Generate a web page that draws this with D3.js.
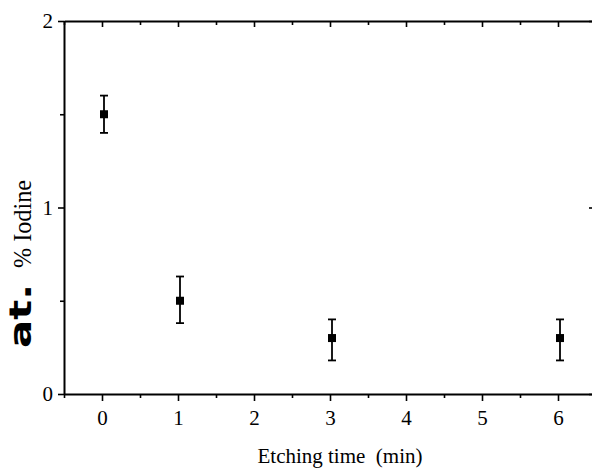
<!DOCTYPE html>
<html>
<head>
<meta charset="utf-8">
<script src="https://cdn.jsdelivr.net/npm/d3@7"></script>
<style>
html,body{margin:0;padding:0;background:#fff;overflow:hidden}
svg{display:block}
</style>
</head>
<body>
<svg id="c" width="592" height="471"></svg>
<script>
const etchTimes = [0, 1, 3, 6];
const iodine = [1.5, 0.5, 0.3, 0.3];
const errLow = [1.4, 0.38, 0.18, 0.18];
const errHigh = [1.6, 0.63, 0.4, 0.4];
const xTickValues = [0, 1, 2, 3, 4, 5, 6];
const yTickValues = [0, 1, 2];
const xLabel = "Etching time  (min)";
const yLabelBold = "at.";
const yLabelRest = "% Iodine";

const svg = d3.select("#c");
const L = 64, R = 596, T = 21, B = 394;
const x = d3.scaleLinear().domain([-0.5, 6.5]).range([L, R]);
const y = d3.scaleLinear().domain([0, 2]).range([B, T]);
const serif = "Liberation Serif, Times New Roman, serif";

function style(g){
  g.attr("font-family", serif).attr("font-size", 21);
  g.select(".domain").attr("stroke","#000").attr("stroke-width",2);
  g.selectAll(".tick line").attr("stroke","#000").attr("stroke-width",1.6);
  g.selectAll(".tick text").attr("fill","#000");
}
const xMinor = d3.range(-0.5, 6.51, 0.5).filter(v => !xTickValues.includes(v));
const yMinor = [0.5, 1.5];
const minorStyle = g=>{g.select(".domain").remove(); g.selectAll("line").attr("stroke","#000").attr("stroke-width",1.6);};

// bottom
const gb = svg.append("g").attr("transform",`translate(0,${B})`)
  .call(d3.axisBottom(x).tickValues(xTickValues).tickFormat(d3.format("d")).tickSizeInner(7).tickSizeOuter(0).tickPadding(9));
style(gb);
svg.append("g").attr("transform",`translate(0,${B})`)
  .call(d3.axisBottom(x).tickValues(xMinor).tickFormat("").tickSizeInner(4).tickSizeOuter(0)).call(minorStyle);
// top
const gt = svg.append("g").attr("transform",`translate(0,${T})`)
  .call(d3.axisTop(x).tickValues(xTickValues).tickFormat("").tickSizeInner(-6).tickSizeOuter(0));
style(gt);
svg.append("g").attr("transform",`translate(0,${T})`)
  .call(d3.axisTop(x).tickValues(xMinor).tickFormat("").tickSizeInner(-4).tickSizeOuter(0)).call(minorStyle);
// left
const gl = svg.append("g").attr("transform",`translate(${L},0)`)
  .call(d3.axisLeft(y).tickValues(yTickValues).tickFormat(d3.format("d")).tickSizeInner(6).tickSizeOuter(0).tickPadding(5));
style(gl);
svg.append("g").attr("transform",`translate(${L},0)`)
  .call(d3.axisLeft(y).tickValues(yMinor).tickFormat("").tickSizeInner(4).tickSizeOuter(0)).call(minorStyle);
// right
const gr = svg.append("g").attr("transform",`translate(${R},0)`)
  .call(d3.axisRight(y).tickValues(yTickValues).tickFormat("").tickSizeInner(-7).tickSizeOuter(0));
style(gr);

// error bars
const pts = etchTimes.map((t,i)=>({t, v:iodine[i], lo:errLow[i], hi:errHigh[i]}));
const eg = svg.append("g").attr("stroke","#000").attr("stroke-width",1.8);
eg.selectAll(".v").data(pts).join("line")
  .attr("x1",d=>x(d.t)+2).attr("x2",d=>x(d.t)+2).attr("y1",d=>y(d.lo)).attr("y2",d=>y(d.hi));
eg.selectAll(".ct").data(pts).join("line")
  .attr("x1",d=>x(d.t)-2).attr("x2",d=>x(d.t)+6).attr("y1",d=>y(d.hi)).attr("y2",d=>y(d.hi));
eg.selectAll(".cb").data(pts).join("line")
  .attr("x1",d=>x(d.t)-2).attr("x2",d=>x(d.t)+6).attr("y1",d=>y(d.lo)).attr("y2",d=>y(d.lo));
svg.append("g").selectAll("rect").data(pts).join("rect")
  .attr("x",d=>x(d.t)+2-4).attr("y",d=>y(d.v)-4).attr("width",8).attr("height",8).attr("fill","#000");

// labels
svg.append("text").attr("x",340).attr("y",463).attr("text-anchor","middle")
  .attr("font-family",serif).attr("font-size",21).style("white-space","pre").text(xLabel);
const yg = svg.append("g").attr("transform","translate(31,0) rotate(-90)");
yg.append("text").attr("x",-348).attr("y",0).attr("font-family","DejaVu Sans, sans-serif")
  .attr("font-weight","bold").attr("font-size",31).attr("textLength",64).attr("lengthAdjust","spacingAndGlyphs")
  .text(yLabelBold);
yg.append("text").attr("x",-268).attr("y",0).attr("font-family",serif)
  .attr("font-size",25).attr("textLength",88).attr("lengthAdjust","spacingAndGlyphs")
  .text(yLabelRest);
</script>
</body>
</html>
